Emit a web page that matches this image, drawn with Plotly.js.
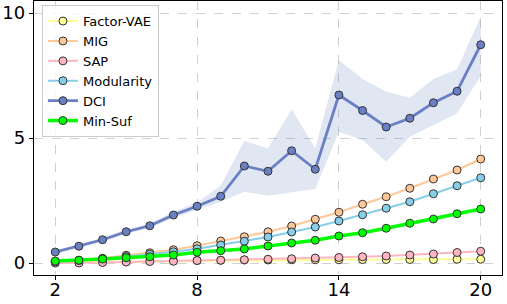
<!DOCTYPE html>
<html><head><meta charset="utf-8">
<script src="https://cdn.plot.ly/plotly-3.0.1.min.js"></script>
<style>html,body{margin:0;padding:0;background:#fff}#chart{width:507px;height:304px}</style>
</head><body><div id="chart"></div>
<script>
const xs = [2,3,4,5,6,7,8,9,10,11,12,13,14,15,16,17,18,19,20];
const factorVAE = [0.02,0.03,0.05,0.07,0.08,0.09,0.10,0.11,0.12,0.12,0.13,0.13,0.13,0.14,0.14,0.14,0.14,0.15,0.15];
const mig = [0.05,0.11,0.19,0.31,0.41,0.53,0.69,0.88,1.05,1.25,1.48,1.75,2.03,2.35,2.65,2.99,3.36,3.72,4.16];
const sap = [0.0,0.0,0.02,0.04,0.06,0.07,0.10,0.11,0.13,0.15,0.17,0.20,0.22,0.25,0.28,0.32,0.36,0.42,0.47];
const modularity = [0.05,0.10,0.17,0.26,0.35,0.45,0.57,0.72,0.87,1.04,1.24,1.44,1.68,1.93,2.19,2.45,2.77,3.09,3.41];
const dci = [0.44,0.67,0.93,1.25,1.49,1.92,2.27,2.67,3.88,3.67,4.49,3.75,6.72,6.10,5.44,5.79,6.41,6.87,8.73];
const dciUpper = [0.52,0.75,1.02,1.33,1.58,2.05,2.42,3.10,4.88,4.59,6.15,4.59,8.12,7.36,6.85,6.61,7.36,7.75,9.85];
const dciLower = [0.36,0.59,0.84,1.17,1.40,1.80,2.12,2.45,2.85,2.69,2.83,2.96,5.25,4.92,4.05,5.05,5.52,5.99,7.48];
const minSuf = [0.08,0.11,0.16,0.21,0.25,0.32,0.43,0.49,0.56,0.68,0.80,0.91,1.08,1.21,1.39,1.59,1.76,1.97,2.16];
const xTicks = [2,8,14,20];
const yTicks = [0,5,10];

const edge = {color:'#333333', width:1};
function series(name, y, color, lw){
  return {x:xs, y:y, name:name, type:'scatter', mode:'lines+markers',
    line:{color:color, width:lw},
    marker:{color:color, size:8, line:edge}};
}
const traces = [
  {x:xs, y:dciLower, type:'scatter', mode:'lines', line:{width:0}, showlegend:false, hoverinfo:'skip'},
  {x:xs, y:dciUpper, type:'scatter', mode:'lines', line:{width:0}, fill:'tonexty', fillcolor:'rgba(106,128,196,0.2)', showlegend:false, hoverinfo:'skip'},
  series('Factor-VAE', factorVAE, '#ffff99', 2),
  series('MIG', mig, '#ffc896', 2),
  series('SAP', sap, '#ffb6c1', 2),
  series('Modularity', modularity, '#87ceeb', 2),
  series('DCI', dci, '#6a80c4', 2.8),
  series('Min-Suf', minSuf, '#00ff00', 3.5)
];
const axisCommon = {showline:true, mirror:true, linecolor:'#000', linewidth:1.2,
  ticks:'outside', ticklen:4, tickcolor:'#000', zeroline:false,
  showgrid:true, gridcolor:'#d0d0d0', griddash:'dash', gridwidth:1,
  tickfont:{family:'DejaVu Sans', size:18, color:'#000'}};
const layout = {
  width:507, height:304,
  margin:{l:34, r:5, t:1, b:29},
  paper_bgcolor:'#fff', plot_bgcolor:'#fff',
  showlegend:true,
  legend:{x:0.017, y:0.985, xanchor:'left', yanchor:'top', traceorder:'normal',
    bgcolor:'rgba(255,255,255,0.8)', bordercolor:'#cccccc', borderwidth:1,
    font:{family:'DejaVu Sans', size:13, color:'#000'}, tracegroupgap:0},
  xaxis:Object.assign({}, axisCommon, {range:[1.1,20.9], tickvals:xTicks, ticktext:xTicks.map(String), ticklabelstandoff:-6}),
  yaxis:Object.assign({}, axisCommon, {range:[-0.48,10.48], tickvals:yTicks, ticktext:yTicks.map(String)})
};
Plotly.newPlot('chart', traces, layout, {displayModeBar:false, staticPlot:true});
</script></body></html>
